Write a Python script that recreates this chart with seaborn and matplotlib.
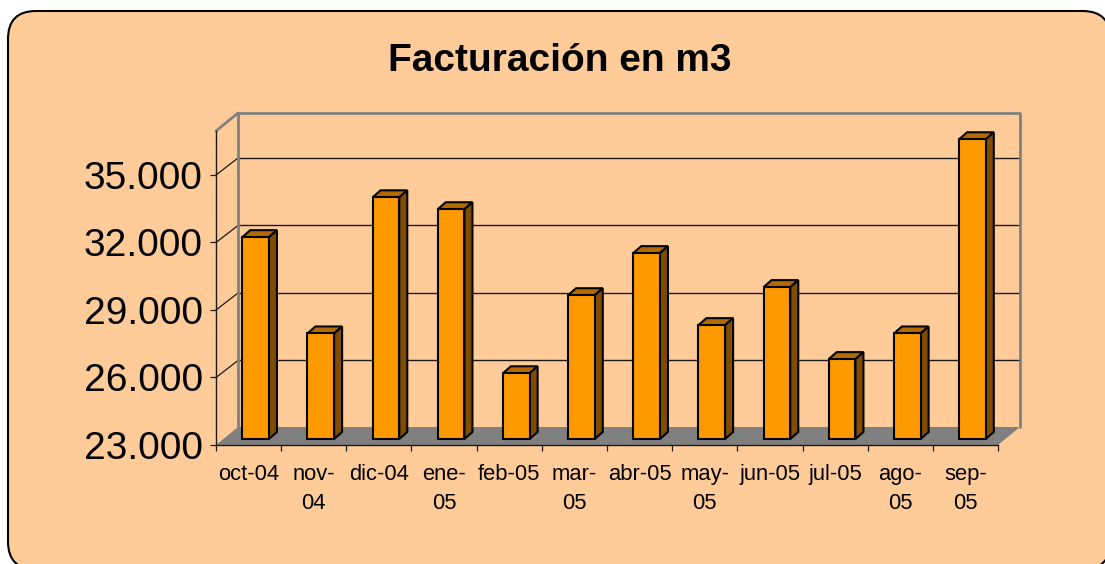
import pandas as pd
import matplotlib
matplotlib.use('Agg')
import matplotlib.pyplot as plt
import seaborn as sns
from matplotlib.patches import FancyBboxPatch, Polygon
from matplotlib.transforms import Affine2D, IdentityTransform

# Data

months = ['oct-04', 'nov-\n04', 'dic-04', 'ene-\n05', 'feb-05', 'mar-\n05',
          'abr-05', 'may-\n05', 'jun-05', 'jul-05', 'ago-\n05', 'sep-\n05']
m3 = [31970, 27690, 33740, 33210, 25920, 29390,
      31260, 28060, 29750, 26550, 27690, 36320]
y_ticks = [23000, 26000, 29000, 32000, 35000]
y_labels = ['23.000', '26.000', '29.000', '32.000', '35.000']

BG = '#FFCC99'
FRONT = '#FF9900'
TOP = '#B36B00'
SIDE = '#804D00'
GREY = '#808080'

W, H = 1105, 564
BACK = (22, 18)    # depth of the chart in pixels
GRID_BACK = (22, 17)
BAR_OFF = (7, 6)   # where the bars stand inside that depth
BAR_DEPTH = (8, 7)

sns.set_theme(style='white')
plt.rcParams['font.family'] = ['Liberation Sans', 'DejaVu Sans']

fig = plt.figure(figsize=(W / 100, H / 100), dpi=100, facecolor='white')

# Rounded panel, runs off the right and bottom of the image
fig.add_artist(FancyBboxPatch((36, 22.5), 1046.5, 502.5,
                              boxstyle='round,pad=28,rounding_size=28',
                              transform=IdentityTransform(), facecolor=BG,
                              edgecolor='black', linewidth=1.5, zorder=-5))

ax = fig.add_axes([216 / W, 1 - 445 / H, 782 / W, 314 / H])
ax.patch.set_visible(False)

df = pd.DataFrame({'month': months, 'm3': m3})
sns.barplot(data=df, x='month', y='m3', color=FRONT, saturation=1, width=0.41,
            edgecolor='black', linewidth=1.5, ax=ax, zorder=5)

base = y_ticks[0]
top = 36955
ax.set_xlim(-0.5, len(months) - 0.5)
ax.set_ylim(base, top)


def shifted(dx, dy):
    return ax.transData + Affine2D().translate(dx, dy)


def to_px(x, y, dx=0, dy=0):
    px, py = ax.transData.transform((x, y))
    return (px + dx, py + dy)


def poly(points, **kw):
    kw.setdefault('clip_on', False)
    ax.add_patch(Polygon(points, closed=True, transform=IdentityTransform(), **kw))


# Floor and back wall
x0, x1 = ax.get_xlim()
poly([to_px(x0, base), to_px(x0, base, *BACK), to_px(x1, base, *BACK), to_px(x1, base)],
     facecolor=GREY, edgecolor='none', zorder=1)
back = shifted(*BACK)
grid_back = shifted(*GRID_BACK)
for v in y_ticks[1:]:
    ax.plot([x0, x1], [v, v], color='#1a1a1a', lw=1, transform=grid_back, clip_on=False, zorder=2)
    a, b = to_px(x0, v), to_px(x0, v, *GRID_BACK)
    ax.plot([a[0], b[0]], [a[1], b[1]], color='#1a1a1a', lw=0.9,
            transform=IdentityTransform(), clip_on=False, zorder=2)
ax.plot([x0, x0, x1, x1], [base, top, top, base], color=GREY, lw=2,
        transform=back, clip_on=False, zorder=2)
a, b = to_px(x0, top), to_px(x0, top, *BACK)
ax.plot([a[0], b[0]], [a[1], b[1]], color=GREY, lw=2,
        transform=IdentityTransform(), clip_on=False, zorder=2)

# Bars: push into the depth and add the top and the side faces
bar_trans = shifted(*BAR_OFF)
for patch, val in zip(ax.patches, m3):
    patch.set_y(base)
    patch.set_height(val - base)
    patch.set_transform(bar_trans)
    patch.set_clip_on(False)
    left = patch.get_x()
    right = left + patch.get_width()
    dx, dy = BAR_OFF
    ddx, ddy = dx + BAR_DEPTH[0], dy + BAR_DEPTH[1]
    poly([to_px(left, val, dx, dy), to_px(left, val, ddx, ddy),
          to_px(right, val, ddx, ddy), to_px(right, val, dx, dy)],
         facecolor=TOP, edgecolor='black', linewidth=1.5, joinstyle='miter', zorder=4)
    poly([to_px(right, base, dx, dy), to_px(right, val, dx, dy),
          to_px(right, val, ddx, ddy), to_px(right, base, ddx, ddy)],
         facecolor=SIDE, edgecolor='black', linewidth=1.5, joinstyle='miter', zorder=4)

# Axes
for s in ['top', 'right']:
    ax.spines[s].set_visible(False)
for s in ['left', 'bottom']:
    ax.spines[s].set_color('#1a1a1a')
    ax.spines[s].set_linewidth(1)
    ax.spines[s].set_zorder(3)

ax.set_yticks(y_ticks)
ax.set_yticklabels(y_labels, fontsize=28, color='black')
ax.tick_params(axis='y', left=True, length=4.5, width=0.9, color='#1a1a1a', pad=5)

ax.set_xticks(range(len(months)))
ax.set_xticklabels(months, fontsize=15.8, color='black', linespacing=1.5)
ax.set_xticks([i - 0.5 for i in range(len(months) + 1)], minor=True)
ax.tick_params(axis='x', which='major', bottom=False, length=0, pad=14)
ax.tick_params(axis='x', which='minor', bottom=True, length=4.5, width=0.9, color='#1a1a1a')
ax.set_xlabel('')
ax.set_ylabel('')

fig.text(559.5 / W, 1 - 61 / H, 'Facturación en m3', fontsize=28, fontweight='bold',
         ha='center', va='center', color='black')

fig.savefig('out.png', dpi=100, facecolor='white')
